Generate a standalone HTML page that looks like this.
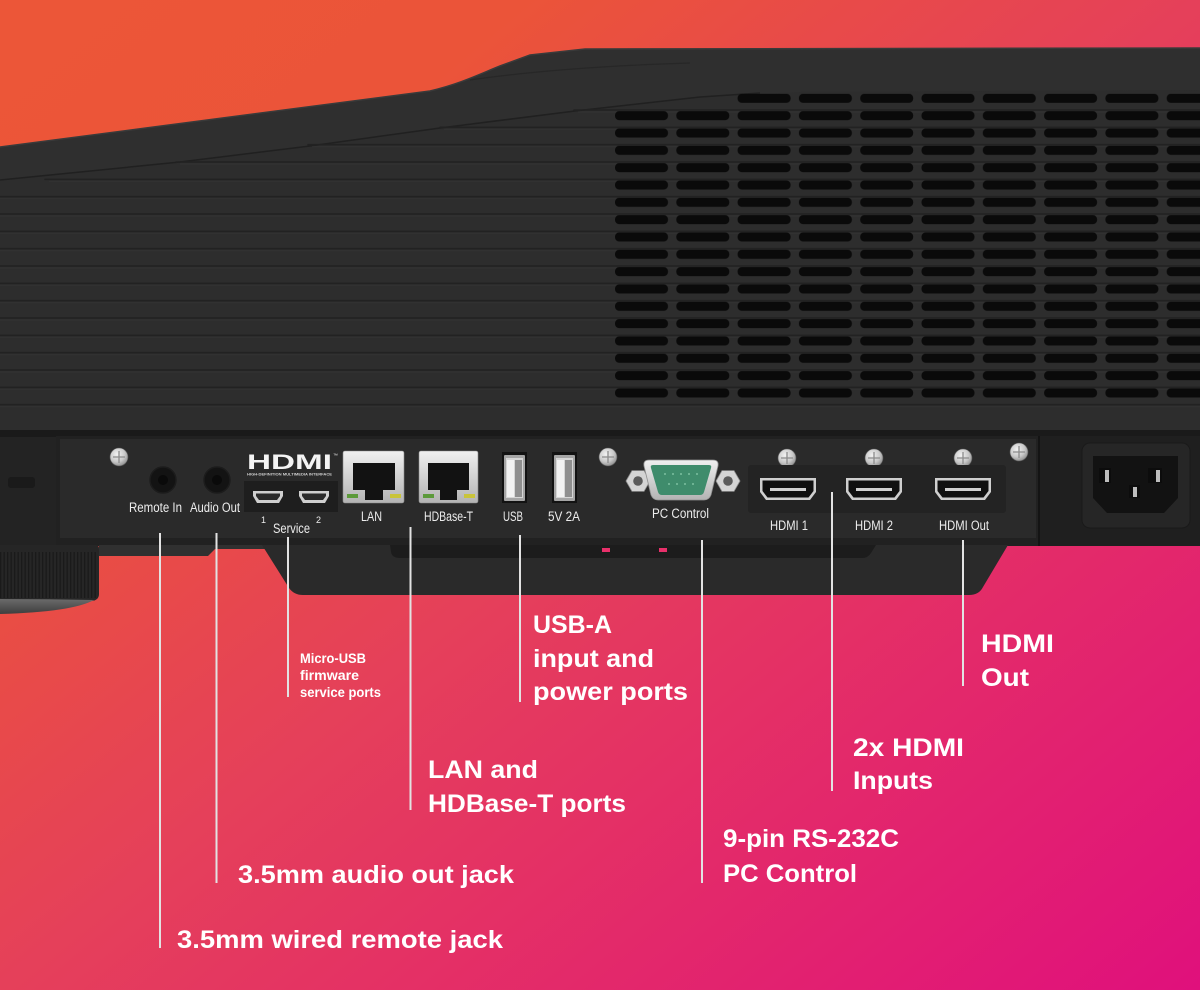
<!DOCTYPE html>
<html>
<head>
<meta charset="utf-8">
<style>
html,body{margin:0;padding:0;background:#E5405A;}
svg{display:block;}
text{font-family:"Liberation Sans",sans-serif;}
</style>
</head>
<body>
<svg width="1200" height="990" viewBox="0 0 1200 990" xmlns="http://www.w3.org/2000/svg">
<defs>
  <linearGradient id="bg" gradientUnits="userSpaceOnUse" x1="0" y1="0" x2="971" y2="1179">
    <stop offset="0" stop-color="#EC5638"/>
    <stop offset="0.22" stop-color="#EB5439"/>
    <stop offset="0.5" stop-color="#E5405A"/>
    <stop offset="0.75" stop-color="#E3286B"/>
    <stop offset="1" stop-color="#E0107C"/>
  </linearGradient>
  <pattern id="vent" patternUnits="userSpaceOnUse" x="615" y="110.67" width="61.3" height="17.33">
    <rect x="0" y="0.5" width="53" height="9" rx="4" fill="#0a0a0a"/>
  </pattern>
  <pattern id="ribs" patternUnits="userSpaceOnUse" x="0" y="0" width="3.5" height="10">
    <rect x="0" y="0" width="1.3" height="10" fill="#1a1a1a"/>
  </pattern>
  <radialGradient id="screw" cx="0.4" cy="0.35" r="0.7">
    <stop offset="0" stop-color="#f2f2f2"/>
    <stop offset="0.6" stop-color="#c8c8c8"/>
    <stop offset="1" stop-color="#8a8a8a"/>
  </radialGradient>
  <linearGradient id="silver" x1="0" y1="0" x2="0" y2="1">
    <stop offset="0" stop-color="#f0f0f0"/>
    <stop offset="1" stop-color="#b3b3b3"/>
  </linearGradient>
  <linearGradient id="ring" x1="0" y1="0" x2="0" y2="1">
    <stop offset="0" stop-color="#6a6a6a"/>
    <stop offset="1" stop-color="#3e3e3e"/>
  </linearGradient>
  <g id="scr">
    <circle cx="0" cy="0" r="9" fill="url(#screw)" stroke="#5a5a5a" stroke-width="0.6"/>
    <path d="M-6,0H6M0,-6V6" stroke="#8c8c8c" stroke-width="1.3"/>
  </g>
</defs>

<!-- background -->
<rect x="0" y="0" width="1200" height="990" fill="url(#bg)"/>

<!-- projector body -->
<path d="M0,147 L430,91 C460,84 480,74 500,66 L530,55 L585,49 L1200,48 L1200,437 L0,437 Z" fill="#2d2d2d"/>
<path d="M0,147 L430,91 C460,84 480,74 500,66 L530,55 L585,49 L1200,48 L1200,90 L800,92 L700,97 L575,111 L440,128 L310,146 L180,162 L0,180 Z" fill="#2f2f2f"/>
<path d="M0,147 L430,91 C460,84 480,74 500,66 L530,55 L585,49 L1200,48" fill="none" stroke="#3a3a3a" stroke-width="1.5"/>
<path d="M0,180 L180,162 L310,146 L440,128 L575,111 L700,97 L760,93" fill="none" stroke="#202020" stroke-width="1.5"/>
<path d="M470,80 Q560,67 690,63" fill="none" stroke="#272727" stroke-width="1.2"/>

<!-- grooves -->
<path d="M574,110H1200M440,127.3H1200M308,144.7H1200M176,162H1200M45,179.3H1200M0,196.7H1200M0,214H1200M0,231.3H1200M0,248.7H1200M0,266H1200M0,283.3H1200M0,300.7H1200M0,318H1200M0,335.3H1200M0,352.7H1200M0,370H1200M0,387.3H1200M0,404.7H1200" stroke="#222222" stroke-width="1.6" stroke-linecap="round"/>
<path d="M578,112H1200M444,129.3H1200M312,146.7H1200M180,164H1200M49,181.3H1200M0,198.7H1200M0,216H1200M0,233.3H1200M0,250.7H1200M0,268H1200M0,285.3H1200M0,302.7H1200M0,320H1200M0,337.3H1200M0,354.7H1200M0,372H1200M0,389.3H1200M0,406.7H1200" stroke="#333333" stroke-width="1"/>

<!-- vents -->
<rect x="615" y="110" width="585" height="290" fill="url(#vent)"/>
<rect x="737" y="93" width="463" height="10" fill="url(#vent)"/>

<!-- lower body band -->
<rect x="0" y="430" width="1200" height="7" fill="#1a1a1a"/>

<!-- left block -->
<rect x="0" y="437" width="56" height="109" fill="#232323"/>
<rect x="8" y="477" width="27" height="11" rx="3" fill="#1a1a1a"/>

<!-- main panel -->
<rect x="56" y="436" width="984" height="110" fill="#212121"/>
<rect x="60" y="439" width="976" height="99" fill="#2a2a2a"/>

<!-- power area -->
<rect x="1038" y="436" width="2" height="110" fill="#141414"/>
<rect x="1040" y="436" width="160" height="110" fill="#1f1f1f"/>
<rect x="1082" y="443" width="108" height="85" rx="8" fill="#262626" stroke="#1a1a1a" stroke-width="1"/>
<path d="M1093,456 H1178 V498 L1164,513 H1107 L1093,498 Z" fill="#121212"/>
<rect x="1099" y="468" width="12" height="15" fill="#0c0c0c"/>
<rect x="1105" y="470" width="4" height="12" fill="#bdbdbd"/>
<rect x="1148" y="468" width="14" height="15" fill="#0c0c0c"/>
<rect x="1156" y="470" width="4" height="12" fill="#bdbdbd"/>
<rect x="1129" y="485" width="11" height="13" fill="#0c0c0c"/>
<rect x="1133" y="487" width="4" height="10" fill="#bdbdbd"/>

<!-- foot -->
<path d="M0,545 H96 Q99,545 99,549 V594 Q99,600 92,601 L0,603 Z" fill="#262626"/>
<rect x="0" y="552" width="97" height="46" fill="url(#ribs)"/>
<path d="M0,599 Q50,599 94,600 Q72,612 0,614 Z" fill="url(#ring)"/>

<!-- lip -->
<path d="M99,545 H265 L268,549 H215 L208,556 H99 Z" fill="#303030"/>

<!-- chin -->
<path d="M262,545 H1008 L983,587 Q979,595 969,595 H303 Q294,595 289,588 Z" fill="#2a2a2a"/>
<path d="M390,545 H876 L871,553 Q868,558 862,558 H400 Q392,558 391,552 Z" fill="#1c1c1c"/>
<rect x="602" y="548" width="8" height="4" fill="#e8306a"/>
<rect x="659" y="548" width="8" height="4" fill="#e8306a"/>

<!-- screws -->
<use href="#scr" x="119" y="457"/>
<use href="#scr" x="608" y="457"/>
<use href="#scr" x="787" y="458"/>
<use href="#scr" x="874" y="458"/>
<use href="#scr" x="963" y="458"/>
<use href="#scr" x="1019" y="452"/>

<!-- jacks -->
<circle cx="163" cy="480" r="13" fill="#131313" stroke="#1c1c1c" stroke-width="1.5"/>
<circle cx="163" cy="480" r="5" fill="#0a0a0a"/>
<circle cx="217" cy="480" r="13" fill="#131313" stroke="#1c1c1c" stroke-width="1.5"/>
<circle cx="217" cy="480" r="5" fill="#0a0a0a"/>

<!-- HDMI logo -->
<text x="247" y="469" font-size="21" font-weight="bold" fill="#f4f4f4" textLength="85" lengthAdjust="spacingAndGlyphs">HDMI</text>
<text x="333" y="457" font-size="5" fill="#e0e0e0">™</text>
<text x="247" y="475.5" font-size="4" font-weight="bold" fill="#cfcfcf" textLength="85" lengthAdjust="spacingAndGlyphs">HIGH-DEFINITION MULTIMEDIA INTERFACE</text>

<!-- service micro usb -->
<rect x="244" y="481" width="94" height="31" fill="#1e1e1e"/>
<path d="M253,491 H283 V496 L279,503 H257 L253,496 Z" fill="#cfcfcf"/>
<path d="M256,493.5 H280 V496 L277,500 H259 L256,496 Z" fill="#2a2a2a"/>
<path d="M299,491 H329 V496 L325,503 H303 L299,496 Z" fill="#cfcfcf"/>
<path d="M302,493.5 H326 V496 L323,500 H305 L302,496 Z" fill="#2a2a2a"/>

<!-- LAN -->
<rect x="343" y="451" width="61" height="52" rx="2" fill="url(#silver)" stroke="#8a8a8a" stroke-width="0.6"/>
<path d="M353,463 H395 V490 H383 V500 H365 V490 H353 Z" fill="#121212"/>
<rect x="347" y="494" width="11" height="4" fill="#5c9a3a"/>
<rect x="390" y="494" width="11" height="4" fill="#c9c43a"/>
<!-- HDBase-T -->
<rect x="419" y="451" width="59" height="52" rx="2" fill="url(#silver)" stroke="#8a8a8a" stroke-width="0.6"/>
<path d="M428,463 H469 V490 H457 V500 H440 V490 H428 Z" fill="#121212"/>
<rect x="423" y="494" width="11" height="4" fill="#5c9a3a"/>
<rect x="464" y="494" width="11" height="4" fill="#c9c43a"/>

<!-- USB ports -->
<rect x="502" y="452" width="25" height="51" fill="#121212"/>
<rect x="504" y="455" width="21" height="46" rx="1" fill="#a5a5a5"/>
<rect x="506" y="458" width="17" height="40" fill="#d6d6d6"/>
<rect x="507" y="460" width="7" height="37" fill="#f2f2f2"/>
<rect x="515" y="460" width="7" height="37" fill="#8f8f8f"/>
<rect x="552" y="452" width="25" height="51" fill="#121212"/>
<rect x="554" y="455" width="21" height="46" rx="1" fill="#a5a5a5"/>
<rect x="556" y="458" width="17" height="40" fill="#d6d6d6"/>
<rect x="557" y="460" width="7" height="37" fill="#f2f2f2"/>
<rect x="565" y="460" width="7" height="37" fill="#8f8f8f"/>

<!-- D-sub PC control -->
<polygon points="650,481 644,491.4 632,491.4 626,481 632,470.6 644,470.6" fill="#d4d4d4" stroke="#8f8f8f" stroke-width="0.8"/>
<circle cx="638" cy="481" r="4.8" fill="#5a5a5a"/>
<polygon points="740,481 734,491.4 722,491.4 716,481 722,470.6 734,470.6" fill="#d4d4d4" stroke="#8f8f8f" stroke-width="0.8"/>
<circle cx="728" cy="481" r="4.8" fill="#5a5a5a"/>
<path d="M649,460 H713 Q719,460 718,466 L711,495 Q709,500 704,500 H658 Q653,500 651,495 L644,466 Q643,460 649,460 Z" fill="url(#silver)" stroke="#8f8f8f" stroke-width="0.8"/>
<path d="M653,465 H709 Q712,465 711,468 L704,492 Q703,495 700,495 H662 Q659,495 658,492 L651,468 Q650,465 653,465 Z" fill="#3f8c6c"/>
<g fill="#7cc0a0">
<circle cx="665" cy="474" r="1"/><circle cx="673" cy="474" r="1"/><circle cx="681" cy="474" r="1"/><circle cx="689" cy="474" r="1"/><circle cx="697" cy="474" r="1"/>
<circle cx="669" cy="484" r="1"/><circle cx="677" cy="484" r="1"/><circle cx="685" cy="484" r="1"/><circle cx="693" cy="484" r="1"/>
</g>

<!-- HDMI recess and ports -->
<rect x="748" y="465" width="258" height="48" rx="3" fill="#232323"/>
<path d="M760,478 H816 V492 L810,500 H766 L760,492 Z" fill="#cfcfcf"/>
<path d="M762.5,480.5 H813.5 V491 L808.5,497.5 H767.5 L762.5,491 Z" fill="#101010"/>
<rect x="770" y="488" width="36" height="3" fill="#d0d0d0"/>
<path d="M846,478 H902 V492 L896,500 H852 L846,492 Z" fill="#cfcfcf"/>
<path d="M848.5,480.5 H899.5 V491 L894.5,497.5 H853.5 L848.5,491 Z" fill="#101010"/>
<rect x="856" y="488" width="36" height="3" fill="#d0d0d0"/>
<path d="M935,478 H991 V492 L985,500 H941 L935,492 Z" fill="#cfcfcf"/>
<path d="M937.5,480.5 H988.5 V491 L983.5,497.5 H942.5 L937.5,491 Z" fill="#101010"/>
<rect x="945" y="488" width="36" height="3" fill="#d0d0d0"/>

<!-- panel labels -->
<g fill="#ececec" font-size="13.5">
<text x="129" y="512" textLength="53" lengthAdjust="spacingAndGlyphs">Remote In</text>
<text x="190" y="512" textLength="50" lengthAdjust="spacingAndGlyphs">Audio Out</text>
<text x="261" y="523" font-size="9">1</text>
<text x="316" y="523" font-size="9">2</text>
<text x="273" y="533" textLength="37" lengthAdjust="spacingAndGlyphs">Service</text>
<text x="361" y="521" textLength="21" lengthAdjust="spacingAndGlyphs">LAN</text>
<text x="424" y="521" textLength="49" lengthAdjust="spacingAndGlyphs">HDBase-T</text>
<text x="503" y="521" textLength="20" lengthAdjust="spacingAndGlyphs">USB</text>
<text x="548" y="521" textLength="32" lengthAdjust="spacingAndGlyphs">5V 2A</text>
<text x="652" y="518" textLength="57" lengthAdjust="spacingAndGlyphs">PC Control</text>
<text x="770" y="530" textLength="38" lengthAdjust="spacingAndGlyphs">HDMI 1</text>
<text x="855" y="530" textLength="38" lengthAdjust="spacingAndGlyphs">HDMI 2</text>
<text x="939" y="530" textLength="50" lengthAdjust="spacingAndGlyphs">HDMI Out</text>
</g>

<!-- connector lines -->
<g stroke="#e2e2e2" stroke-width="2">
<line x1="160" y1="533" x2="160" y2="948"/>
<line x1="216.5" y1="533" x2="216.5" y2="883"/>
<line x1="288" y1="537" x2="288" y2="697"/>
<line x1="410.5" y1="527" x2="410.5" y2="810"/>
<line x1="520" y1="535" x2="520" y2="702"/>
<line x1="702" y1="540" x2="702" y2="883"/>
<line x1="832" y1="492" x2="832" y2="791"/>
<line x1="963" y1="540" x2="963" y2="686"/>
</g>

<!-- callout labels -->
<g fill="#ffffff" font-weight="bold">
<g font-size="13.5">
<text x="300" y="663" textLength="66" lengthAdjust="spacingAndGlyphs">Micro-USB</text>
<text x="300" y="680" textLength="59" lengthAdjust="spacingAndGlyphs">firmware</text>
<text x="300" y="697" textLength="81" lengthAdjust="spacingAndGlyphs">service ports</text>
</g>
<g font-size="25">
<text x="533" y="633" textLength="79" lengthAdjust="spacingAndGlyphs">USB-A</text>
<text x="533" y="667" textLength="121" lengthAdjust="spacingAndGlyphs">input and</text>
<text x="533" y="700" textLength="155" lengthAdjust="spacingAndGlyphs">power ports</text>
<text x="981" y="652" textLength="73" lengthAdjust="spacingAndGlyphs">HDMI</text>
<text x="981" y="686" textLength="48" lengthAdjust="spacingAndGlyphs">Out</text>
<text x="853" y="756" textLength="111" lengthAdjust="spacingAndGlyphs">2x HDMI</text>
<text x="853" y="789" textLength="80" lengthAdjust="spacingAndGlyphs">Inputs</text>
<text x="428" y="778" textLength="110" lengthAdjust="spacingAndGlyphs">LAN and</text>
<text x="428" y="812" textLength="198" lengthAdjust="spacingAndGlyphs">HDBase-T ports</text>
<text x="723" y="847" textLength="176" lengthAdjust="spacingAndGlyphs">9-pin RS-232C</text>
<text x="723" y="882" textLength="134" lengthAdjust="spacingAndGlyphs">PC Control</text>
<text x="238" y="883" textLength="276" lengthAdjust="spacingAndGlyphs">3.5mm audio out jack</text>
<text x="177" y="948" textLength="326" lengthAdjust="spacingAndGlyphs">3.5mm wired remote jack</text>
</g>
</g>
</svg>
</body>
</html>
